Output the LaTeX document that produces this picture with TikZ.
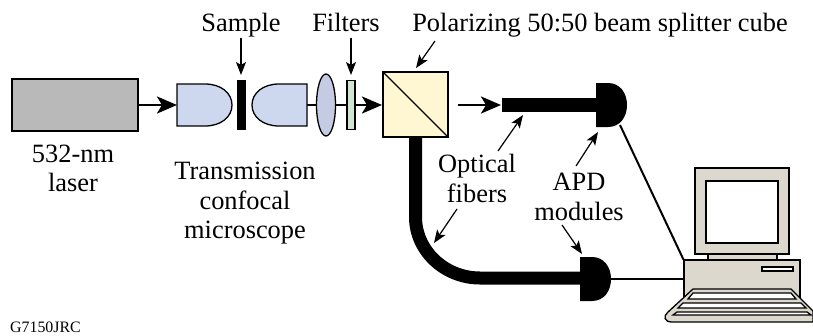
\documentclass[tikz,border=0pt]{standalone}
\usepackage{fontspec}
\setmainfont{Liberation Serif}
\usetikzlibrary{arrows.meta}
\definecolor{lasergray}{HTML}{B9B9B9}
\definecolor{objblue}{HTML}{CDD7EE}
\definecolor{lensblue}{HTML}{C6CBE4}
\definecolor{filtergreen}{HTML}{D0E4D6}
\definecolor{cubeyellow}{HTML}{FFF6D2}
\definecolor{pcgray}{HTML}{DDD8CE}
\tikzset{
  lbl/.style={font=\fontsize{26.4}{29.5}\selectfont,align=center,inner sep=0pt},
  beam/.style={line width=2.5pt,-{Stealth[length=20pt,width=17pt,inset=5pt]}},
  pointer/.style={line width=1.2pt,-{Stealth[length=13pt,width=10pt,inset=3pt]}},
  part/.style={draw,line width=1.3pt},
  pc/.style={draw,line width=1.3pt,fill=pcgray},
}
\begin{document}
\begin{tikzpicture}[x=1pt,y=-1pt]
  \useasboundingbox (0,0) rectangle (813,335);

  % Beam behind the optics
  \coordinate (objout) at (307,105);
  \coordinate (cubein) at (382,105);
  \draw[beam] (objout) -- (cubein);

  % Laser and microscope
  \node[part,fill=lasergray,minimum width=126pt,minimum height=52pt,inner sep=0pt] (laser) at (75,105) {};
  \coordinate (objin) at (177,105);
  \draw[beam] (laser.east) -- (objin);
  \draw[part,fill=objblue] (177,84) -- (205,84) .. controls (221,84) and (232,93) .. (232,105)
    .. controls (232,117) and (221,126) .. (205,126) -- (177,126) -- cycle;
  \draw[part,fill=objblue] (307,84) -- (279,84) .. controls (263,84) and (252,93) .. (252,105)
    .. controls (252,117) and (263,126) .. (279,126) -- (307,126) -- cycle;
  \node[fill=black,minimum width=9pt,minimum height=50pt,inner sep=0pt] (sample) at (241.5,105) {};

  % Lens and filter
  \draw[part,fill=lensblue] (326,105) ellipse (9.5 and 31);
  \node[part,fill=filtergreen,minimum width=8pt,minimum height=49pt,inner sep=0pt] (filter) at (351,105) {};

  % Beam splitter cube
  \node[part,fill=cubeyellow,minimum width=65pt,minimum height=65pt,inner sep=0pt] (cube) at (415.5,104.5) {};
  \draw[line width=1.3pt] (cube.north west) -- (cube.south east);

  % Fibers
  \coordinate (cubeout) at (458,105);
  \coordinate (fibertip) at (501,105);
  \draw[beam] (cubeout) -- (fibertip);
  \draw[line width=14pt] (502,105) -- (597,105);
  \draw[line width=13pt] (415.5,137) -- (415.5,217) .. controls (415.5,250.5) and (444.5,278) .. (480,278) -- (581,278);

  % APD modules
  \fill (596,83) -- (608,83) .. controls (620,83) and (627,93) .. (627,105)
    .. controls (627,117) and (620,127) .. (608,127) -- (596,127) -- cycle;
  \fill (580,257) -- (592,257) .. controls (604,257) and (611,267) .. (611,279)
    .. controls (611,291) and (604,301) .. (592,301) -- (580,301) -- cycle;

  % Computer
  \node[pc,minimum width=69pt,minimum height=7pt,inner sep=0pt] (neck) at (742.5,257) {};
  \node[pc,minimum width=94pt,minimum height=86pt,inner sep=0pt] (monitor) at (742,211) {};
  \node[draw,line width=1.3pt,fill=white,minimum width=72pt,minimum height=62pt,inner sep=0pt] (screen) at (742,212) {};
  \node[pc,minimum width=116pt,minimum height=40pt,inner sep=0pt] (base) at (742,280) {};
  \node[draw,line width=1.3pt,fill=white,minimum width=31pt,minimum height=4pt,inner sep=0pt] (slot) at (777.5,269) {};
  \draw[pc] (693,289) -- (791,289) -- (813,311) -- (813,322) -- (672,322)
    .. controls (664,322) and (663,316) .. (668,312) -- cycle;
  \draw[line width=1.3pt,fill=white] (693,293) -- (791,293) -- (796,299) -- (688,299) -- cycle;
  \draw[line width=1.3pt,fill=white] (683,303) -- (801,303) -- (806,308) -- (678,308) -- cycle;
  \draw[line width=1.3pt,fill=white] (677,312) -- (807,312) -- (811,315) -- (673,315) -- cycle;

  % Signal wires
  \coordinate (apdup) at (620,125);
  \coordinate (apdlow) at (611,279);
  \draw[line width=2pt] (apdup) -- (base.north west);
  \draw[line width=2pt] (apdlow) -- (apdlow -| base.west);

  % Labels
  \node[lbl,anchor=base] (samplelbl) at (241,31) {Sample};
  \node[lbl,anchor=base] (filterlbl) at (346,31) {Filters};
  \node[lbl,anchor=base] (cubelbl) at (600,31) {Polarizing 50:50 beam splitter cube};
  \node[lbl] (laserlbl) at (73,168.5) {532-nm\\laser};
  \node[lbl] (scopelbl) at (245,203.5) {Transmission\\confocal\\microscope};
  \node[lbl] (fiberlbl) at (477,178.5) {Optical\\fibers};
  \node[lbl] (apdlbl) at (579,197) {APD\\modules};
  \node[font=\fontsize{15.9}{18}\selectfont,inner sep=0pt,anchor=base] (joblbl) at (45.5,332) {G7150JRC};

  % Pointers
  \coordinate (sampletop) at (241,75);
  \coordinate (filtertop) at (351,75);
  \coordinate (cubetop) at (416,68);
  \coordinate (cubetail) at (435,41);
  \coordinate (fiberup) at (523,115);
  \coordinate (fiberlow) at (434,243);
  \coordinate (apdupt) at (598,132);
  \coordinate (apdlowt) at (582,254);
  \draw[pointer] (241,38) -- (sampletop);
  \draw[pointer] (351,38) -- (filtertop);
  \draw[pointer] (cubetail) -- (cubetop);
  \draw[pointer] (498,151) -- (fiberup);
  \draw[pointer] (457,209) -- (fiberlow);
  \draw[pointer] (576,166) -- (apdupt);
  \draw[pointer] (562,225) -- (apdlowt);
\end{tikzpicture}
\end{document}
